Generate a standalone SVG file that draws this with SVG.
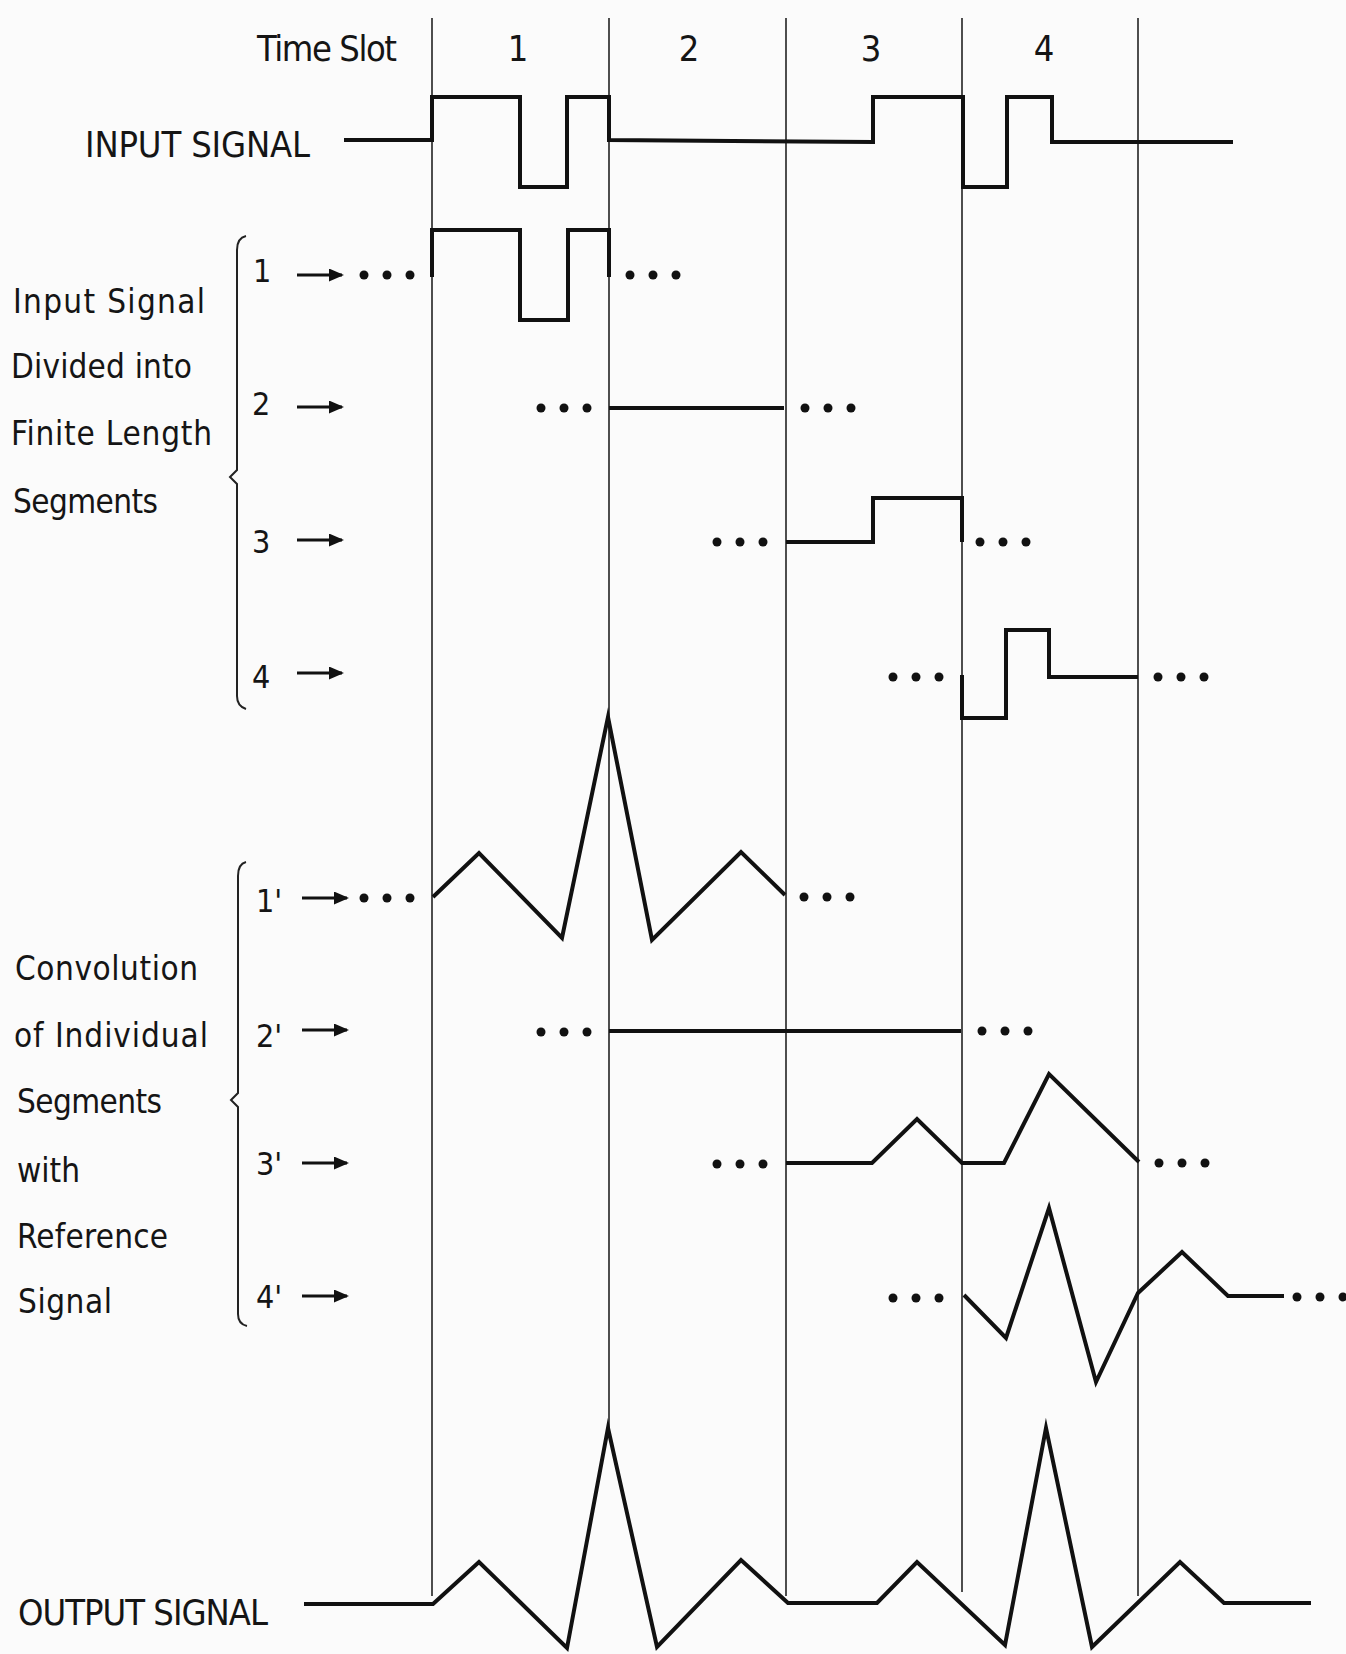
<svg xmlns="http://www.w3.org/2000/svg" xmlns:xlink="http://www.w3.org/1999/xlink" width="1346" height="1654" viewBox="0 0 1346 1654">
<style>
.bg{fill:#fbfbfb}
.grid{stroke:#222;stroke-width:1.6;fill:none}
.sig{stroke:#111;stroke-width:4;fill:none;stroke-linejoin:miter;stroke-miterlimit:6;stroke-linecap:butt}
.brk{stroke:#222;stroke-width:2;fill:none}
.arr{stroke:#111;stroke-width:3.2;fill:none}
.t{font-family:'DejaVu Sans Condensed','DejaVu Sans','Liberation Sans',sans-serif;fill:#151515}
.lab{font-size:33px}
.cap{font-size:36px}
.num{font-size:32px}
</style>
<defs>
<marker id="ah" viewBox="0 0 15 13" refX="13" refY="6.5" markerWidth="15" markerHeight="13" markerUnits="userSpaceOnUse" orient="auto">
<path d="M0,0 L15,6.5 L0,13 Z" fill="#111"/>
</marker>
<g id="dots"><circle cx="0" cy="0" r="4.5" fill="#111"/><circle cx="23" cy="0" r="4.5" fill="#111"/><circle cx="46" cy="0" r="4.5" fill="#111"/></g>
</defs>
<rect class="bg" x="0" y="0" width="1346" height="1654"/>

<g id="time-grid">
<line class="grid" x1="432" y1="18" x2="432" y2="1596"/>
<line class="grid" x1="609" y1="18" x2="609" y2="1428"/>
<line class="grid" x1="786" y1="18" x2="786" y2="1596"/>
<line class="grid" x1="962" y1="18" x2="962" y2="1592"/>
<line class="grid" x1="1138" y1="18" x2="1138" y2="1596"/>
</g>

<g id="header">
<text class="t cap" x="257" y="61" textLength="140">Time Slot</text>
<text class="t cap" x="518" y="61" text-anchor="middle">1</text>
<text class="t cap" x="689" y="61" text-anchor="middle">2</text>
<text class="t cap" x="871" y="61" text-anchor="middle">3</text>
<text class="t cap" x="1044" y="61" text-anchor="middle">4</text>
</g>

<g id="input-signal">
<text class="t cap" x="85" y="157" textLength="225">INPUT SIGNAL</text>
<path class="sig" d="M344,140 H432 V97 H520 V187 H567 V97 H609 V140 L873,142 V97 H963 V187 H1007 V97 H1052 V142 H1233"/>
</g>

<g id="segments-label">
<text class="t lab" x="13" y="313" textLength="192">Input Signal</text>
<text class="t lab" x="11" y="378" textLength="181">Divided into</text>
<text class="t lab" x="11" y="445" textLength="201">Finite Length</text>
<text class="t lab" x="13" y="513" textLength="145">Segments</text>
<path class="brk" d="M246,236 Q237,238 237,250 V470 L230,477 L237,484 V696 Q237,706 246,709"/>
</g>

<g id="segment-1">
<text class="t num" x="253" y="282">1</text>
<path class="sig" d="M432,277 V230 H520 V320 H568 V230 H609 V277"/>
<use xlink:href="#dots" href="#dots" x="364" y="275"/>
<use xlink:href="#dots" href="#dots" x="630" y="275"/>
</g>
<g id="segment-2">
<text class="t num" x="252" y="415">2</text>
<path class="sig" d="M609,408 H784"/>
<use xlink:href="#dots" href="#dots" x="541" y="408"/>
<use xlink:href="#dots" href="#dots" x="805" y="408"/>
</g>
<g id="segment-3">
<text class="t num" x="252" y="553">3</text>
<path class="sig" d="M786,542 H873 V498 H962 V542"/>
<use xlink:href="#dots" href="#dots" x="717" y="542"/>
<use xlink:href="#dots" href="#dots" x="980" y="542"/>
</g>
<g id="segment-4">
<text class="t num" x="252" y="688">4</text>
<path class="sig" d="M962,675 V718 H1006 V630 H1049 V677 H1138"/>
<use xlink:href="#dots" href="#dots" x="893" y="677"/>
<use xlink:href="#dots" href="#dots" x="1158" y="677"/>
</g>

<g id="convolution-label">
<text class="t lab" x="15" y="980" textLength="183">Convolution</text>
<text class="t lab" x="14" y="1047" textLength="194">of Individual</text>
<text class="t lab" x="17" y="1113" textLength="145">Segments</text>
<text class="t lab" x="17" y="1182" textLength="63">with</text>
<text class="t lab" x="17" y="1248" textLength="151">Reference</text>
<text class="t lab" x="18" y="1313" textLength="94">Signal</text>
<path class="brk" d="M246,862 Q238,864 238,876 V1093 L231,1100 L238,1107 V1314 Q238,1324 247,1326"/>
</g>

<g id="conv-1">
<text class="t num" x="256" y="912">1'</text>
<path class="sig" d="M433,897 L479,853 L562,938 L608,717 L652,940 L741,852 L785,895"/>
<use xlink:href="#dots" href="#dots" x="364" y="898"/>
<use xlink:href="#dots" href="#dots" x="804" y="897"/>
</g>
<g id="conv-2">
<text class="t num" x="256" y="1047">2'</text>
<path class="sig" d="M609,1031 H961"/>
<use xlink:href="#dots" href="#dots" x="541" y="1032"/>
<use xlink:href="#dots" href="#dots" x="982" y="1031"/>
</g>
<g id="conv-3">
<text class="t num" x="256" y="1175">3'</text>
<path class="sig" d="M786,1163 H872 L917,1119 L962,1163 H1004 L1049,1074 L1139,1162"/>
<use xlink:href="#dots" href="#dots" x="717" y="1164"/>
<use xlink:href="#dots" href="#dots" x="1159" y="1163"/>
</g>
<g id="conv-4">
<text class="t num" x="256" y="1308">4'</text>
<path class="sig" d="M964,1295 L1006,1338 L1049,1208 L1096,1382 L1138,1293 L1182,1252 L1228,1296 H1284"/>
<use xlink:href="#dots" href="#dots" x="893" y="1298"/>
<use xlink:href="#dots" href="#dots" x="1297" y="1297"/>
</g>

<g id="connectors">
<line class="arr" x1="297" y1="275" x2="342" y2="275" marker-end="url(#ah)"/>
<line class="arr" x1="297" y1="407" x2="342" y2="407" marker-end="url(#ah)"/>
<line class="arr" x1="297" y1="540" x2="342" y2="540" marker-end="url(#ah)"/>
<line class="arr" x1="297" y1="673" x2="342" y2="673" marker-end="url(#ah)"/>
<line class="arr" x1="302" y1="898" x2="347" y2="898" marker-end="url(#ah)"/>
<line class="arr" x1="302" y1="1030" x2="347" y2="1030" marker-end="url(#ah)"/>
<line class="arr" x1="302" y1="1163" x2="347" y2="1163" marker-end="url(#ah)"/>
<line class="arr" x1="302" y1="1296" x2="347" y2="1296" marker-end="url(#ah)"/>
</g>

<g id="output-signal">
<text class="t cap" x="18" y="1625" textLength="250">OUTPUT SIGNAL</text>
<path class="sig" d="M304,1604 H433 L479,1562 L567,1648 L608,1428 L657,1647 L741,1560 L788,1603 H877 L917,1562 L1005,1645 L1046,1428 L1092,1647 L1180,1562 L1224,1603 H1311"/>
</g>
</svg>
